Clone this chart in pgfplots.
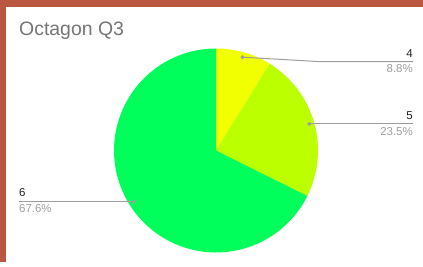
\documentclass[border=0pt]{standalone}
\usepackage{fontspec}
\setmainfont{Liberation Sans}
\usepackage{pgfplots}
\pgfplotsset{compat=1.18}
\definecolor{frame}{RGB}{185,87,65}
\definecolor{sA}{RGB}{242,255,0}
\definecolor{sB}{RGB}{187,255,0}
\definecolor{sC}{RGB}{0,255,90}
\definecolor{ttl}{RGB}{117,117,117}
\definecolor{lead}{RGB}{158,158,158}
\definecolor{pct}{RGB}{158,158,158}
\definecolor{lbl}{RGB}{34,34,34}
\begin{document}
\begin{tikzpicture}
% counts: 4 -> 3, 5 -> 8, 6 -> 23
\pgfmathsetmacro{\nA}{3}
\pgfmathsetmacro{\nB}{8}
\pgfmathsetmacro{\nC}{23}
\pgfmathsetmacro{\tot}{\nA+\nB+\nC}
\pgfmathsetmacro{\cx}{216}
\pgfmathsetmacro{\cy}{111.5}
\pgfmathsetmacro{\R}{102}
\pgfmathsetmacro{\aA}{90}
\pgfmathsetmacro{\aB}{90-360*\nA/\tot}
\pgfmathsetmacro{\aC}{\aB-360*\nB/\tot}
\pgfmathsetmacro{\aD}{\aC-360*\nC/\tot}
\pgfmathsetmacro{\pAx}{\cx+\R*cos(\aA)}
\pgfmathsetmacro{\pAy}{\cy+\R*sin(\aA)}
\pgfmathsetmacro{\pBx}{\cx+\R*cos(\aB)}
\pgfmathsetmacro{\pBy}{\cy+\R*sin(\aB)}
\pgfmathsetmacro{\pCx}{\cx+\R*cos(\aC)}
\pgfmathsetmacro{\pCy}{\cy+\R*sin(\aC)}
\pgfmathsetmacro{\dAx}{\cx+97*cos((\aA+\aB)/2)}
\pgfmathsetmacro{\dAy}{\cy+97*sin((\aA+\aB)/2)}
\pgfmathsetmacro{\dBx}{\cx+97*cos((\aB+\aC)/2)}
\pgfmathsetmacro{\dBy}{\cy+97*sin((\aB+\aC)/2)}
\pgfmathsetmacro{\dCx}{\cx+97*cos((\aC+\aD)/2)}
\pgfmathsetmacro{\dCy}{\cy+97*sin((\aC+\aD)/2)}
\path (0,0) rectangle (423bp,262bp);
\begin{axis}[at={(0,0)}, anchor=south west, scale only axis,
  width=423bp, height=262bp, xmin=0, xmax=423, ymin=0, ymax=262,
  hide axis, clip=false]
\fill[frame] (axis cs:0,0) rectangle (axis cs:6,262);
\fill[frame] (axis cs:0,255) rectangle (axis cs:423,262);
\addplot[draw=none, fill=sA] coordinates {(\cx,\cy) (\pAx,\pAy)} arc[start angle=\aA, end angle=\aB, radius=102bp] -- cycle;
\addplot[draw=none, fill=sB] coordinates {(\cx,\cy) (\pBx,\pBy)} arc[start angle=\aB, end angle=\aC, radius=102bp] -- cycle;
\addplot[draw=none, fill=sC] coordinates {(\cx,\cy) (\pCx,\pCy)} arc[start angle=\aC, end angle=\aD, radius=102bp] -- cycle;
% leader lines
\draw[lead, line width=1bp] (axis cs:\dAx,\dAy) -- (axis cs:321,200.3) -- (axis cs:413,200.3);
\draw[lead, line width=1bp] (axis cs:\dBx,\dBy) -- (axis cs:413,\dBy);
\draw[lead, line width=1bp] (axis cs:\dCx,\dCy) -- (axis cs:19,\dCy);
\addplot[only marks, mark=*, mark size=1.8bp, lead, mark options={draw=lead, fill=lead}] coordinates {(\dAx,\dAy) (\dBx,\dBy) (\dCx,\dCy)};
% title
\node[anchor=base west, inner sep=0, text=ttl, font=\fontsize{19.5}{22}\selectfont] at (axis cs:19,226) {Octagon Q3};
% labels
\node[anchor=base east, inner sep=0, text=lbl, font=\fontsize{11.5}{13}\selectfont] at (axis cs:413,204.7) {4};
\node[anchor=base east, inner sep=0, text=pct, font=\fontsize{11.5}{13}\selectfont] at (axis cs:413,189.3) {8.8\%};
\node[anchor=base east, inner sep=0, text=lbl, font=\fontsize{11.5}{13}\selectfont] at (axis cs:413,142) {5};
\node[anchor=base east, inner sep=0, text=pct, font=\fontsize{11.5}{13}\selectfont] at (axis cs:413,126.5) {23.5\%};
\node[anchor=base west, inner sep=0, text=lbl, font=\fontsize{11.5}{13}\selectfont] at (axis cs:19,65) {6};
\node[anchor=base west, inner sep=0, text=pct, font=\fontsize{11.5}{13}\selectfont] at (axis cs:19,49.3) {67.6\%};
\end{axis}
\end{tikzpicture}
\end{document}
